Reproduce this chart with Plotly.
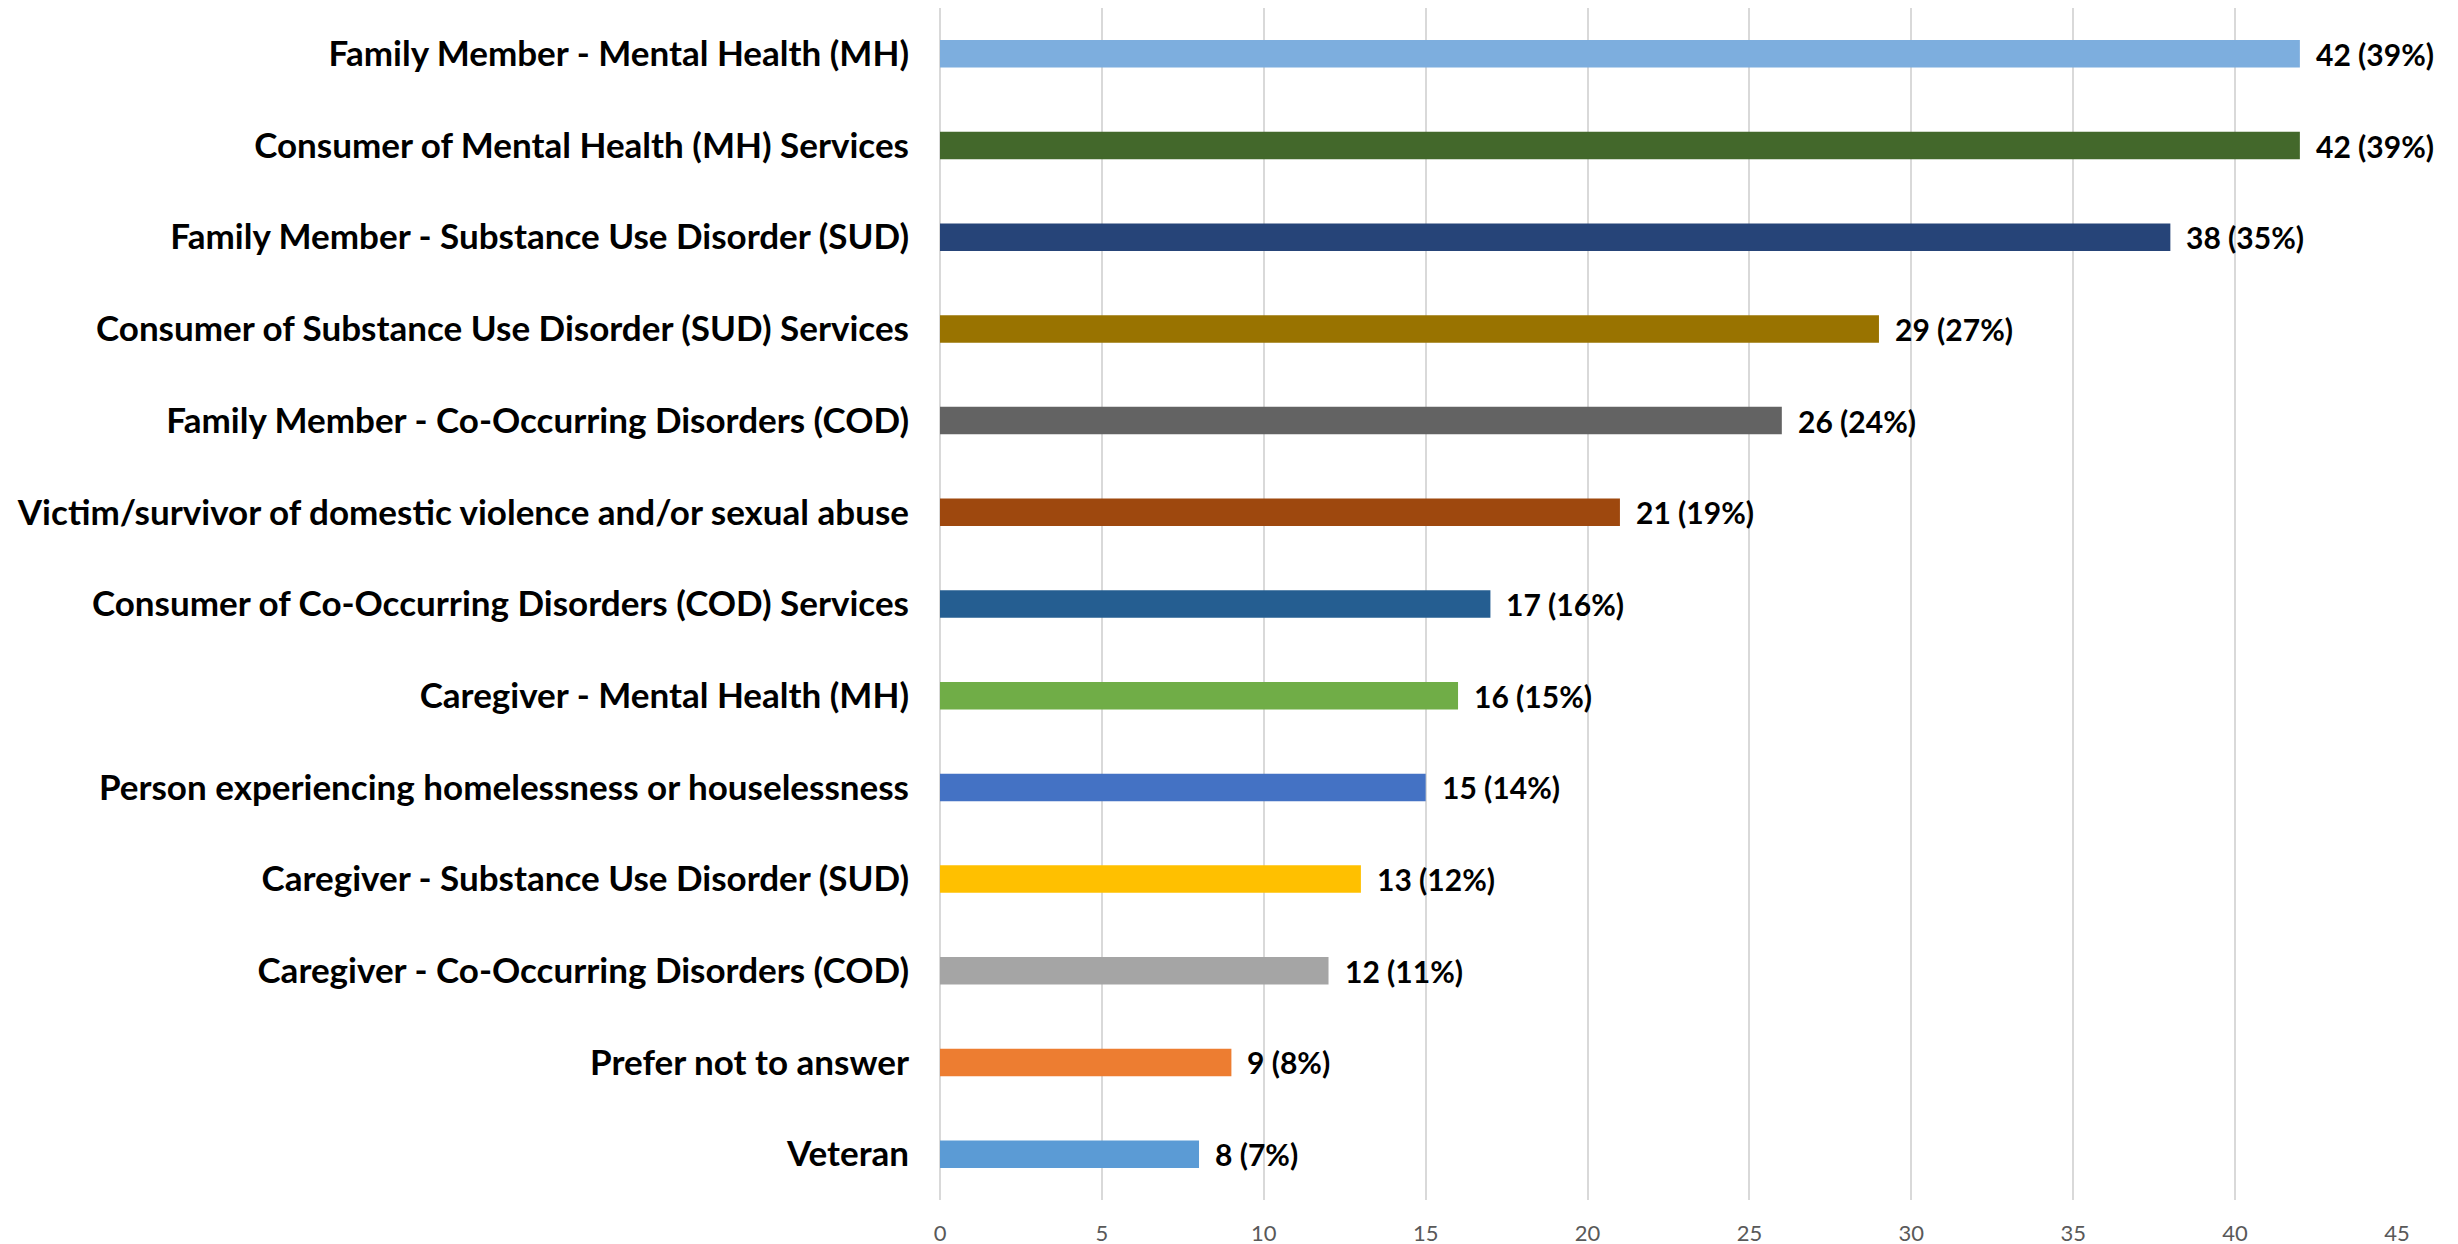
import plotly.graph_objects as go

# Survey categories (top to bottom) and counts
categories = [
    "Family Member - Mental Health (MH)",
    "Consumer of Mental Health (MH) Services",
    "Family Member - Substance Use Disorder (SUD)",
    "Consumer of Substance Use Disorder (SUD) Services",
    "Family Member - Co-Occurring Disorders (COD)",
    "Victim/survivor of domestic violence and/or sexual abuse",
    "Consumer of Co-Occurring Disorders (COD) Services",
    "Caregiver - Mental Health (MH)",
    "Person experiencing homelessness or houselessness",
    "Caregiver - Substance Use Disorder (SUD)",
    "Caregiver - Co-Occurring Disorders (COD)",
    "Prefer not to answer",
    "Veteran",
]
counts = [42, 42, 38, 29, 26, 21, 17, 16, 15, 13, 12, 9, 8]
percents = [39, 39, 35, 27, 24, 19, 16, 15, 14, 12, 11, 8, 7]
x_ticks = [0, 5, 10, 15, 20, 25, 30, 35, 40, 45]

BAR_COLORS = [
    "#7DAEDE", "#43682B", "#264478", "#997300", "#636363", "#9E480E", "#255E91",
    "#70AD47", "#4472C4", "#FFC000", "#A5A5A5", "#ED7D31", "#5B9BD5",
]
FONT = "Lato"

fig = go.Figure()
fig.add_trace(
    go.Bar(
        y=categories,
        x=counts,
        orientation="h",
        marker_color=BAR_COLORS,
        marker_line_width=0,
        width=0.3,
        hoverinfo="x+y",
    )
)

# value labels to the right of each bar
for cat, n, pct in zip(categories, counts, percents):
    fig.add_annotation(
        x=n, y=cat,
        text=f"<b>{n} ({pct}%)</b>",
        showarrow=False,
        xanchor="left",
        xshift=14,
        font=dict(family=FONT, size=30, color="#000000"),
    )

# page has an 8px body margin, so margins are a bit smaller than the target positions
fig.update_layout(
    width=2458,
    height=1244,
    margin=dict(l=932, r=69, t=0, b=52),
    paper_bgcolor="white",
    plot_bgcolor="white",
    showlegend=False,
    xaxis=dict(
        range=[0, 45],
        tickvals=x_ticks,
        showgrid=True,
        gridcolor="#D9D9D9",
        gridwidth=2,
        zeroline=True,
        zerolinecolor="#D9D9D9",
        zerolinewidth=2,
        showline=False,
        tickfont=dict(family=FONT, size=22, color="#595959"),
        ticklabelstandoff=18,
    ),
    yaxis=dict(
        categoryorder="array",
        categoryarray=categories[::-1],
        showgrid=False,
        showline=False,
        tickfont=dict(family=FONT, size=35, color="#000000", weight="bold"),
        ticklabelstandoff=30,
    ),
)

fig.write_html("out.html")
